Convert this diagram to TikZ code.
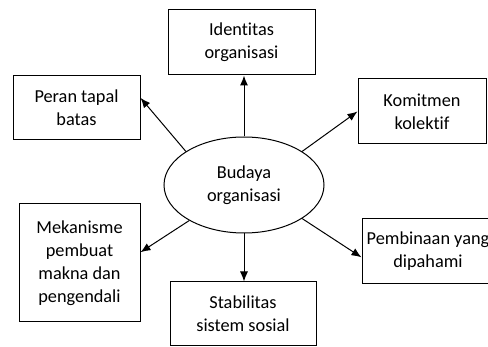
\documentclass[tikz,border=0pt]{standalone}
\usepackage{fontspec}
\setmainfont{Carlito}[Ligatures=NoCommon]
\usetikzlibrary{arrows.meta,shapes.geometric}

\newcommand\texteBoite{\fontsize{18.3}{23}\selectfont}

\begin{document}
\begin{tikzpicture}[x=1pt,y=-1pt,>={Latex[length=10pt,width=8pt]},
    boite/.style={draw,line width=1pt,align=center,inner sep=0pt,font=\texteBoite},
    fleche/.style={->,line width=1pt}]
  \clip (0,0) rectangle (488,347) ;
  % le noyau
  \node[ellipse,boite,minimum width=160pt,minimum height=96pt] (budaya) at (244,185)
    {Budaya\\organisasi} ;
  % les fonctions autour
  \node[boite,minimum width=147pt,minimum height=65pt] (identitas) at (241.5,42.5)
    {Identitas\\organisasi} ;
  \node[boite,minimum width=127pt,minimum height=64pt] (peran) at (76.5,108)
    {Peran tapal\\batas} ;
  \node[boite,minimum width=128pt,minimum height=65pt] (komitmen) at (422,111.5)
    {Komitmen\\kolektif} ;
  \node[boite,minimum width=121pt,minimum height=118pt] (mekanisme) at (79.5,263)
    {Mekanisme\\pembuat\\makna dan\\pengendali} ;
  \node[boite,minimum width=146pt,minimum height=64pt] (stabilitas) at (243,314)
    {Stabilitas\\sistem sosial} ;
  \node[boite,minimum width=132pt,minimum height=65pt] (pembinaan) at (428,251.5)
    {Pembinaan yang\\dipahami} ;
  % les fleches
  \draw[fleche] (budaya.north) -- (budaya.north |- identitas.south) ;
  \draw[fleche] (budaya.south) -- (budaya.south |- stabilitas.north) ;
  \draw[fleche] (budaya.150) -- (peran.9) ;
  \draw[fleche] (budaya.30) -- (komitmen.west) ;
  \draw[fleche] (budaya.213) -- (mekanisme.10) ;
  \draw[fleche] (budaya.330) -- (pembinaan.185) ;
\end{tikzpicture}
\end{document}
